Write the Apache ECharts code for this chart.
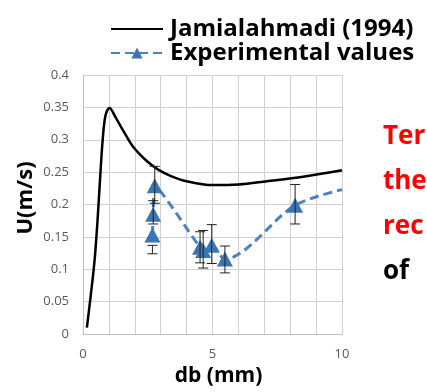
<!DOCTYPE html>
<html>
<head>
<meta charset="utf-8">
<script src="https://cdn.jsdelivr.net/npm/echarts@6/dist/echarts.min.js"></script>
<style>
html, body { margin: 0; padding: 0; background: #fff; }
#chart { width: 427px; height: 392px; }
</style>
</head>
<body>
<div id="chart"></div>
<script>
// Jamialahmadi (1994) correlation curve
var modelX = [0.15, 0.3, 0.45, 0.56, 0.66, 0.76, 0.87, 1.02, 1.28, 1.54, 1.92, 2.44, 2.9, 3.4, 4.0, 5.0, 6.0, 7.1, 8.5, 10];
var modelY = [0.01, 0.06, 0.115, 0.175, 0.24, 0.30, 0.338, 0.349, 0.333, 0.315, 0.290, 0.268, 0.254, 0.244, 0.236, 0.230, 0.231, 0.236, 0.243, 0.253];

// experimental values with error bars
var expX = [2.68, 2.71, 2.77, 4.52, 4.64, 4.97, 5.48, 8.19];
var expY = [0.153, 0.185, 0.229, 0.134, 0.129, 0.137, 0.116, 0.199];
var expLow = [0.124, 0.170, 0.202, 0.110, 0.102, 0.109, 0.0945, 0.170];
var expHigh = [0.137, 0.206, 0.259, 0.158, 0.160, 0.169, 0.136, 0.231];
// dashed trend keeps going to the right edge
var tailX = 10, tailY = 0.223;

var seriesNames = ['Jamialahmadi (1994)', 'Experimental values'];
var sideWords = ['Ter', 'the', 'rec', 'of'];

var modelData = modelX.map(function (x, i) { return [x, modelY[i]]; });
var expData = expX.map(function (x, i) { return [x, expY[i]]; });
expData.push({ value: [tailX, tailY], symbol: 'none' });
var errData = expX.map(function (x, i) { return [x, expLow[i], expHigh[i]]; });

var myChart = echarts.init(document.getElementById('chart'));
var option = {
	animation: false,
	textStyle: { fontFamily: 'Open Sans' },
	grid: { left: 83, right: 85, top: 75, bottom: 56 },
	legend: {
		data: [{ name: seriesNames[0], itemStyle: { opacity: 0 } }, seriesNames[1]],
		orient: 'vertical',
		left: 105,
		top: 12,
		itemWidth: 52,
		itemHeight: 14,
		itemGap: 0,
		textStyle: { fontSize: 24, lineHeight: 22, fontWeight: 'bold', color: '#000', fontFamily: 'Open Sans', padding: [0, 0, 0, 2] }
	},
	xAxis: {
		type: 'value',
		min: 0, max: 10, interval: 1,
		name: 'db (mm)',
		nameLocation: 'middle',
		nameGap: 30,
		nameTextStyle: { fontSize: 21, fontWeight: 'bold', color: '#000', padding: [0, 0, 0, 12] },
		axisLine: { show: true, lineStyle: { color: '#bfbfbf' } },
		axisTick: { show: false },
		axisLabel: {
			color: '#595959', fontSize: 13, margin: 14,
			formatter: function (v) { return v % 5 === 0 ? String(v) : ''; }
		},
		splitLine: { show: true, lineStyle: { color: '#d0d0d0' } }
	},
	yAxis: {
		type: 'value',
		min: 0, max: 0.4, interval: 0.05,
		axisLine: { show: true, lineStyle: { color: '#bfbfbf' } },
		axisTick: { show: false },
		axisLabel: { color: '#595959', fontSize: 13, margin: 14 },
		splitLine: { show: true, lineStyle: { color: '#d0d0d0' } }
	},
	series: [{
		name: seriesNames[0],
		type: 'line',
		smooth: 0.35,
		symbol: 'none',
		data: modelData,
		lineStyle: { color: '#000', width: 2.5 },
		itemStyle: { color: '#000' },
		z: 3
	}, {
		name: seriesNames[1],
		type: 'line',
		smooth: 0.3,
		symbol: 'triangle',
		symbolSize: [16, 15],
		data: expData,
		lineStyle: { color: '#4f81bd', width: 3, type: [9, 5] },
		itemStyle: { color: '#3c75b4' },
		z: 4
	}, {
		type: 'custom',
		name: 'err',
		data: errData,
		z: 5,
		renderItem: function (params, api) {
			var top = api.coord([api.value(0), api.value(2)]);
			var bot = api.coord([api.value(0), api.value(1)]);
			var w = 5;
			var style = { stroke: '#222', lineWidth: 1 };
			return {
				type: 'group',
				children: [
					{ type: 'line', shape: { x1: top[0], y1: top[1], x2: bot[0], y2: bot[1] }, style: style },
					{ type: 'line', shape: { x1: top[0] - w, y1: top[1], x2: top[0] + w, y2: top[1] }, style: style },
					{ type: 'line', shape: { x1: bot[0] - w, y1: bot[1], x2: bot[0] + w, y2: bot[1] }, style: style }
				]
			};
		}
	}],
	graphic: sideWords.map(function (w, i) {
		return {
			type: 'text',
			left: 383,
			top: 124 + i * 45,
			style: {
				text: w,
				fontSize: 26,
				fontWeight: 'bold',
				fontFamily: 'Open Sans',
				fill: i < 3 ? '#ff0000' : '#000'
			}
		};
	}).concat([{
		type: 'text',
		x: 26,
		y: 198,
		rotation: Math.PI / 2,
		style: {
			text: 'U(m/s)',
			fontSize: 22,
			fontWeight: 'bold',
			fontFamily: 'Open Sans',
			fill: '#000',
			align: 'center',
			verticalAlign: 'middle'
		}
	}])
};
myChart.setOption(option);
</script>
</body>
</html>
